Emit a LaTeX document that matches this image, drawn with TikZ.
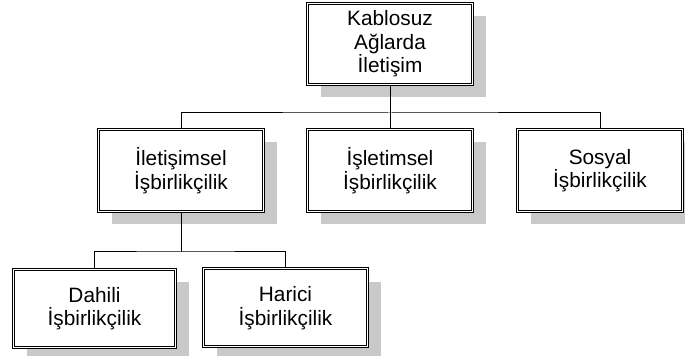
\documentclass[tikz,border=0pt]{standalone}
\usepackage{fontspec}
\setmainfont{Liberation Sans}
\usepackage{xcolor}
\usepackage{tikz}
\usetikzlibrary{shadows, positioning, calc}

\begin{document}
\begin{tikzpicture}[
    x=0.5pt, y=-0.5pt,
    box/.style={draw=black, line width=0.5pt, double=white, double distance=0.5pt,
        fill=white, minimum width=82.5pt, minimum height=40.5pt, align=center,
        inner sep=0pt, font=\fontsize{10.4}{11.7}\selectfont,
        drop shadow={shadow xshift=6.5pt, shadow yshift=-6.5pt, fill=black!21, opacity=1}},
    link/.style={draw=black, line width=0.5pt}
]
    \useasboundingbox (0,0) rectangle (685,356);

    \node[box] at (390,44) (root) {Kablosuz\\Ağlarda\\İletişim};
    \node[box, minimum height=41pt] at (181,170.5) (comm) {İletişimsel\\İşbirlikçilik};
    \node[box, minimum height=41pt] at (390,170.5) (oper) {İşletimsel\\İşbirlikçilik};
    \node[box, minimum height=41pt] at (600,170.5) (social) {Sosyal\\İşbirlikçilik};
    \node[box, minimum width=81pt, minimum height=39pt] at (94.5,308.5) (inner) {Dahili\\İşbirlikçilik};
    \node[box, minimum width=82pt, minimum height=39pt] at (285.5,308) (outer) {Harici\\İşbirlikçilik};

    \coordinate (bus1) at (390,113);
    \coordinate (bus2) at (181,252);

    \draw[link] (root) -- (oper);
    \draw[link] (comm.north) |- (bus1) -| (social.north);
    \draw[link] (comm) -- (bus2);
    \draw[link] (inner.north) |- (bus2) -| (outer.north);
\end{tikzpicture}
\end{document}
